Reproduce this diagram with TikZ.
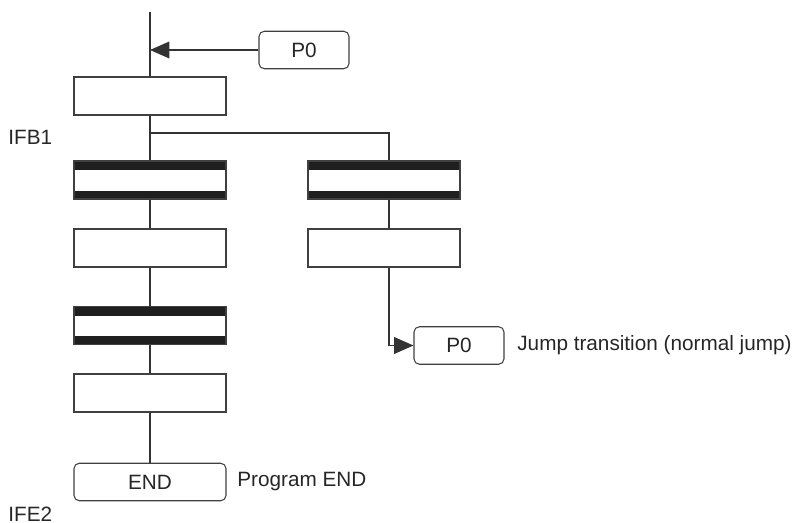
\documentclass[tikz,border=0pt]{standalone}
\usepackage{fontspec}
\setmainfont{Liberation Sans}
\usetikzlibrary{arrows.meta}

\begin{document}
\begin{tikzpicture}[
  x=0.02cm, y=-0.02cm,
  font=\fontsize{11.8}{14}\selectfont,
  every node/.style={text=black!85},
  line/.style={draw=black!80, line width=0.75pt},
  stepbox/.style={draw=black!75, line width=0.6pt, fill=white, minimum width=3.04cm, minimum height=0.76cm, inner sep=0pt},
  transbox/.style={stepbox, path picture={
      \fill[black!88] (path picture bounding box.north west) rectangle ([yshift=-5.4pt]path picture bounding box.north east);
      \fill[black!88] ([yshift=4.6pt]path picture bounding box.south west) rectangle (path picture bounding box.south east);}},
  jumpbox/.style={draw=black!75, line width=0.6pt, fill=white, rounded corners=3pt, minimum height=0.75cm, inner sep=0pt},
  note/.style={anchor=west, inner sep=0pt},
  tip/.style={-{Triangle[length=11pt, width=9.5pt]}}
]
  \useasboundingbox (0,0) rectangle (798,523);

  % Main column
  \coordinate (top) at (150,12);
  \coordinate (join) at (150,50);
  \node[stepbox]  (s1) at (150,96)    {};
  \node[transbox] (t1) at (150,180)   {};
  \node[stepbox]  (s2) at (150,248)   {};
  \node[transbox] (t2) at (150,325.5) {};
  \node[stepbox]  (s3) at (150,393)   {};
  \node[jumpbox, minimum width=3.04cm] (end) at (150,482) {END};

  % Branch column
  \coordinate (fork)  at (150,133);
  \coordinate (forkr) at (389,133);
  \node[transbox] (t3) at (384,180) {};
  \node[stepbox]  (s4) at (384,248) {};

  % Jump boxes
  \node[jumpbox, minimum width=1.8cm] (p0a) at (304,50)    {P0};
  \node[jumpbox, minimum width=1.8cm] (p0b) at (459,345.5) {P0};

  % Connectors
  \draw[line] (top) -- (s1) -- (t1) -- (s2) -- (t2) -- (s3) -- (end);
  \draw[line, tip] (p0a) -- (join);
  \draw[line] (fork) -- (forkr) -- (t3.north -| forkr);
  \draw[line] (t3.south -| forkr) -- (s4.north -| forkr);
  \draw[line, tip] (s4.south -| forkr) |- (p0b);

  % Labels
  \node[note] (ifb) at (8,137)   {IFB1};
  \node[note] (ife) at (8,514)   {IFE2};
  \node[note] (pend) at (237,482) {Program END};
  \node[note] (jmp) at (517,345) {Jump transition (normal jump)};

\end{tikzpicture}
\end{document}
